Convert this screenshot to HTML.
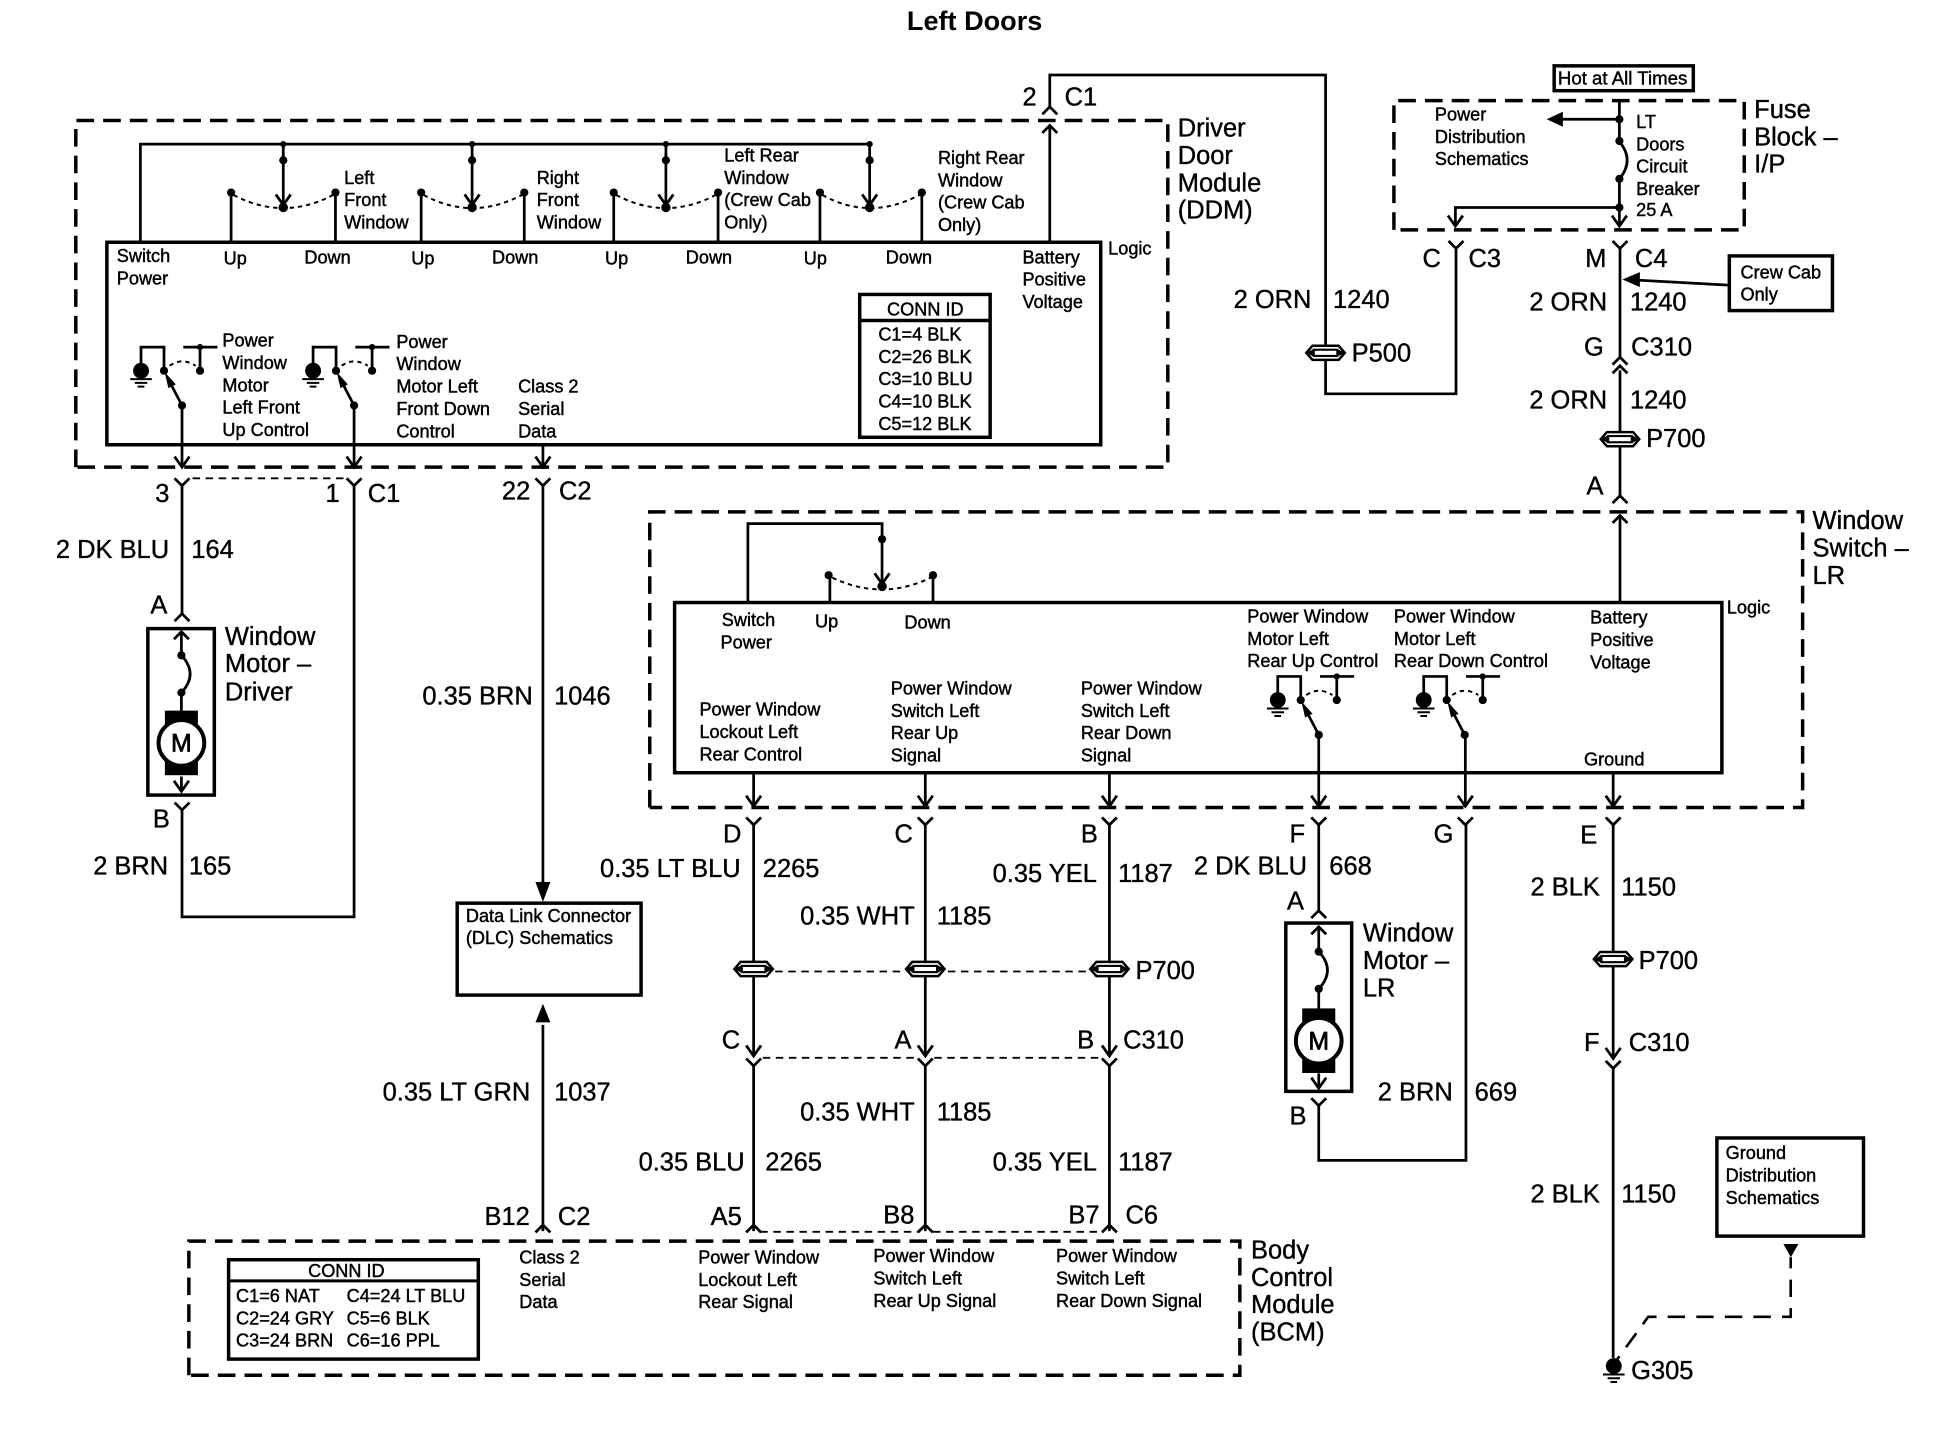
<!DOCTYPE html>
<html><head><meta charset="utf-8"><title>Left Doors</title>
<style>
html,body{margin:0;padding:0;background:#fff}
svg{display:block}
text{font-family:"Liberation Sans",sans-serif;fill:#000}
.s{font-size:14.6px;stroke:#000;stroke-width:.35}
.b{font-size:20.5px;stroke:#000;stroke-width:.3}
.w{fill:none;stroke:#000;stroke-width:2.2}
.box{fill:none;stroke:#000;stroke-width:2.8}
.d{fill:none;stroke:#000;stroke-width:2.8;stroke-dasharray:14.2 7.3}
.t{fill:none;stroke:#000;stroke-width:1.5;stroke-dasharray:6 4.5}
.o{fill:none;stroke:#000;stroke-width:1.6;stroke-dasharray:3.5 3.2}
</style></head><body>
<svg xmlns="http://www.w3.org/2000/svg" width="1948" height="1456" viewBox="0 0 1568 1172">
<defs>
<path id="ad" d="M-6,-8.500L0,0L6,-8.500" fill="none" stroke="#000" stroke-width="2.2"/>
<path id="yf" d="M-6,-6L0,0L6,-6" fill="none" stroke="#000" stroke-width="2.2"/>
<path id="up" d="M-6,6L0,0L6,6" fill="none" stroke="#000" stroke-width="2.2"/>
<circle id="dot" r="3.3" fill="#000"/>
<g id="pp"><path d="M-15.500,0L-10.500,-5.700H10.500L15.500,0L10.500,5.700H-10.500Z" fill="#fff" stroke="#000" stroke-width="2"/><rect x="-9.500" y="-2.500" width="19" height="5" fill="#fff" stroke="#000" stroke-width="1.700"/><path d="M-16,0L-9.500,-3V3ZM16,0L9.500,-3V3Z" fill="#000"/></g>
<g id="gnd"><circle cx="0" cy="0" r="6.4" fill="#000"/><path d="M-8.700,6.800H8.700M-5,9.800H5M-2.700,12.800H2.700" stroke="#000" stroke-width="1.600"/></g>
<g id="sw">
<path class="w" d="M0,-4V-18H18.500V1"/>
<path class="w" d="M34,-18H61.500M47.500,-18V1"/>
<circle cx="18.500" cy="1" r="3.300"/><circle cx="47.500" cy="1" r="3.300"/>
<path class="o" d="M23,-3Q33,-10 44,-3"/>
<path class="w" d="M33,29L21,6"/><path d="M19,2L28,12L22,15Z" fill="#000"/>
<circle cx="33" cy="29" r="3.300"/>
<circle cx="47.500" cy="-18" r="2.500"/>
</g>
<g id="mot">
<rect x="-13.300" y="-26" width="26.600" height="52" fill="#000"/>
<circle r="18.400" fill="#fff" stroke="#000" stroke-width="3.200"/>
<text x="0" y="7" text-anchor="middle" style="font-size:20px;stroke:#000;stroke-width:.6">M</text>
</g>
<g id="bulge"><path class="w" d="M0,0Q14,15 0,30"/><circle r="3.300"/><circle cy="30" r="3.300"/></g>
</defs>
<rect width="1568" height="1172" fill="#fff"/>

<text x="730" y="24" style="font-size:21.8px;font-weight:bold">Left Doors</text>

<!-- DDM -->
<path class="d" d="M61,376V97H940V376H61"/>
<rect class="box" x="86" y="195" width="800" height="163"/>
<path class="w" d="M113,195V116H700V167M228,116V167M380,116V167M536,116V167"/>
<path class="w" d="M186,195V156M270,195V156M339,195V156M422,195V156M494,195V156M578,195V156M660,195V156M742,195V156"/>
<g fill="#000">
<circle cx="228" cy="116" r="2.5"/><circle cx="380" cy="116" r="2.5"/><circle cx="536" cy="116" r="2.5"/><circle cx="700" cy="116" r="2.500"/>
<circle cx="228" cy="129" r="3.300"/><circle cx="380" cy="129" r="3.300"/><circle cx="536" cy="129" r="3.300"/><circle cx="700" cy="129" r="3.300"/>
<circle cx="228" cy="167" r="3.800"/><circle cx="380" cy="167" r="3.800"/><circle cx="536" cy="167" r="3.800"/><circle cx="700" cy="167" r="3.800"/>
<circle cx="186" cy="155" r="3.300"/><circle cx="270" cy="155" r="3.300"/><circle cx="339" cy="155" r="3.300"/><circle cx="422" cy="155" r="3.300"/><circle cx="494" cy="155" r="3.300"/><circle cx="578" cy="155" r="3.300"/><circle cx="660" cy="155" r="3.300"/><circle cx="742" cy="155" r="3.300"/>
</g>
<use href="#ad" x="228" y="165"/><use href="#ad" x="380" y="165"/><use href="#ad" x="536" y="165"/><use href="#ad" x="700" y="165"/>
<path class="o" d="M188,157Q228,178 268,157M341,157Q380,178 420,157M496,157Q536,178 576,157M662,157Q700,178 740,157"/>
<text class="s" x="94" y="211">Switch</text><text class="s" x="94" y="229">Power</text>
<text class="s" x="180" y="213">Up</text><text class="s" x="245" y="212">Down</text>
<text class="s" x="331" y="213">Up</text><text class="s" x="396" y="212">Down</text>
<text class="s" x="487" y="213">Up</text><text class="s" x="552" y="212">Down</text>
<text class="s" x="647" y="213">Up</text><text class="s" x="713" y="212">Down</text>
<text class="s" x="277" y="148">Left</text><text class="s" x="277" y="166">Front</text><text class="s" x="277" y="184">Window</text>
<text class="s" x="432" y="148">Right</text><text class="s" x="432" y="166">Front</text><text class="s" x="432" y="184">Window</text>
<text class="s" x="583" y="130">Left Rear</text><text class="s" x="583" y="148">Window</text><text class="s" x="583" y="166">(Crew Cab</text><text class="s" x="583" y="184">Only)</text>
<text class="s" x="755" y="132">Right Rear</text><text class="s" x="755" y="150">Window</text><text class="s" x="755" y="168">(Crew Cab</text><text class="s" x="755" y="186">Only)</text>
<text class="s" x="823" y="212">Battery</text><text class="s" x="823" y="230">Positive</text><text class="s" x="823" y="248">Voltage</text>
<text class="s" x="892" y="205">Logic</text>
<text class="s" x="179" y="279">Power</text><text class="s" x="179" y="297">Window</text><text class="s" x="179" y="315">Motor</text><text class="s" x="179" y="333">Left Front</text><text class="s" x="179" y="351">Up Control</text>
<text class="s" x="319" y="280">Power</text><text class="s" x="319" y="298">Window</text><text class="s" x="319" y="316">Motor Left</text><text class="s" x="319" y="334">Front Down</text><text class="s" x="319" y="352">Control</text>
<text class="s" x="417" y="316">Class 2</text><text class="s" x="417" y="334">Serial</text><text class="s" x="417" y="352">Data</text>
<rect class="box" x="692" y="237" width="105" height="115"/>
<path class="box" d="M692,258H797"/>
<text class="s" x="714" y="254">CONN ID</text>
<text class="s" x="707" y="274">C1=4 BLK</text><text class="s" x="707" y="292">C2=26 BLK</text><text class="s" x="707" y="310">C3=10 BLU</text><text class="s" x="707" y="328">C4=10 BLK</text><text class="s" x="707" y="346">C5=12 BLK</text>

<use href="#gnd" x="113.500" y="298.400"/><use href="#sw" x="113.500" y="297.400"/>
<use href="#gnd" x="252" y="298.400"/><use href="#sw" x="252" y="297.400"/>
<path class="w" d="M146.500,326V375M285,326V375M437,358V375M845,195V102"/>
<use href="#ad" x="146.500" y="376"/><use href="#ad" x="285" y="376"/><use href="#ad" x="437" y="376"/>
<use href="#up" x="845" y="101"/>
<use href="#up" x="845" y="86"/>
<path class="w" d="M845,86V60.400H1067V317H1172V200"/>
<text class="b" x="823" y="85">2</text><text class="b" x="857" y="85">C1</text>
<text class="b" x="948" y="110">Driver</text><text class="b" x="948" y="132">Door</text><text class="b" x="948" y="154">Module</text><text class="b" x="948" y="176">(DDM)</text>

<!-- below DDM -->
<path class="t" d="M155,385H277"/>
<path class="w" d="M146.500,391V494M285,391V738H146.500V652M437,391V712"/>
<use href="#yf" x="146.500" y="391"/><use href="#yf" x="285" y="391"/><use href="#yf" x="437" y="391"/>
<text class="b" x="125" y="404">3</text><text class="b" x="262" y="404">1</text><text class="b" x="296" y="404">C1</text>
<text class="b" x="404" y="402">22</text><text class="b" x="450" y="402">C2</text>
<text class="b" x="45" y="449">2 DK BLU</text><text class="b" x="154" y="449">164</text>
<text class="b" x="121" y="494">A</text>
<use href="#up" x="146.500" y="494"/>
<rect class="box" x="119" y="506" width="53.500" height="134"/>
<path class="w" d="M146,509V527M146,558V572M146,625V636"/>
<use href="#up" x="146" y="508.500"/>
<use href="#bulge" x="146" y="527.500"/>
<use href="#mot" x="146" y="598"/>
<use href="#ad" x="146" y="637"/>
<use href="#yf" x="146.500" y="652"/>
<text class="b" x="123" y="666">B</text>
<text class="b" x="75" y="704">2 BRN</text><text class="b" x="152" y="704">165</text>
<text class="b" x="181" y="519">Window</text><text class="b" x="181" y="541">Motor –</text><text class="b" x="181" y="564">Driver</text>

<text class="b" x="340" y="567">0.35 BRN</text><text class="b" x="446" y="567">1046</text>
<path d="M437,726L431,710H443Z" fill="#000"/>
<rect class="box" x="368" y="727" width="148" height="74"/>
<text class="s" x="375" y="742">Data Link Connector</text><text class="s" x="375" y="760">(DLC) Schematics</text>
<path class="w" d="M437,825V991"/>
<path d="M437,808L431,823H443Z" fill="#000"/>
<text class="b" x="308" y="886">0.35 LT GRN</text><text class="b" x="446" y="886">1037</text>
<use href="#up" x="437" y="986"/>
<text class="b" x="390" y="986">B12</text><text class="b" x="449" y="986">C2</text>

<!-- Fuse block -->
<rect class="box" x="1251" y="53" width="112" height="20"/>
<text class="s" x="1254" y="68" style="font-size:15px">Hot at All Times</text>
<path class="d" d="M1122,185V81H1404V185H1122"/>
<path class="w" d="M1303.500,81V113M1303.500,144V180M1257,96H1303M1303,167H1171.500V180"/>
<path class="w" d="M1303.500,114Q1316,129 1303.500,144"/>
<g fill="#000"><circle cx="1303.500" cy="96" r="3.300"/><circle cx="1303.500" cy="113.500" r="3.300"/><circle cx="1303.500" cy="144" r="3.300"/><circle cx="1303.500" cy="167" r="3.300"/>
<path d="M1245,96L1258,90V102Z"/></g>
<use href="#ad" x="1303.500" y="182"/><use href="#ad" x="1171.500" y="182"/>
<text class="s" x="1155" y="97">Power</text><text class="s" x="1155" y="115">Distribution</text><text class="s" x="1155" y="133">Schematics</text>
<text class="s" x="1317" y="103">LT</text><text class="s" x="1317" y="121">Doors</text><text class="s" x="1317" y="139">Circuit</text><text class="s" x="1317" y="157">Breaker</text><text class="s" x="1317" y="174">25 A</text>
<text class="b" x="1412" y="95">Fuse</text><text class="b" x="1412" y="117">Block –</text><text class="b" x="1412" y="139">I/P</text>

<use href="#yf" x="1172" y="200"/><use href="#yf" x="1304" y="200"/>
<path class="w" d="M1304,200V288M1304,298V399M1304,416V485"/>
<use href="#up" x="1304" y="287.500"/><use href="#up" x="1304" y="294.500"/>
<use href="#up" x="1304" y="399"/>
<use href="#up" x="1304" y="415"/>
<text class="b" x="1145" y="215">C</text><text class="b" x="1182" y="215">C3</text>
<text class="b" x="1276" y="215">M</text><text class="b" x="1316" y="215">C4</text>
<rect class="box" x="1392" y="206" width="83" height="44"/>
<text class="s" x="1401" y="224">Crew Cab</text><text class="s" x="1401" y="242">Only</text>
<path class="w" d="M1391,229.500L1318,225.500"/><path d="M1306,225L1320,219V231Z" fill="#000"/>
<text class="b" x="1231" y="250">2 ORN</text><text class="b" x="1312" y="250">1240</text>
<text class="b" x="1275" y="286">G</text><text class="b" x="1313" y="286">C310</text>
<text class="b" x="1231" y="329">2 ORN</text><text class="b" x="1312" y="329">1240</text>
<use href="#pp" x="1304" y="353.500"/>
<text class="b" x="1325" y="360">P700</text>
<text class="b" x="1277" y="398">A</text>
<text class="b" x="993" y="248">2 ORN</text><text class="b" x="1073" y="248">1240</text>
<use href="#pp" x="1067" y="284"/>
<text class="b" x="1088" y="291">P500</text>

<!-- Window Switch LR -->
<path class="d" d="M523,650V412H1451V650H523"/>
<rect class="box" x="543" y="485" width="843" height="137"/>
<path class="w" d="M602,485V421.500H710V474M668,485V463M751,485V463"/>
<g fill="#000"><circle cx="710" cy="434" r="3.300"/><circle cx="710" cy="472" r="3.800"/><circle cx="667" cy="463" r="3.300"/><circle cx="751" cy="463" r="3.300"/></g>
<use href="#ad" x="710" y="470"/>
<path class="o" d="M670,465Q710,484 749,465"/>
<text class="s" x="581" y="504">Switch</text><text class="s" x="580" y="522">Power</text>
<text class="s" x="656" y="505">Up</text><text class="s" x="728" y="506">Down</text>
<text class="s" x="563" y="576">Power Window</text><text class="s" x="563" y="594">Lockout Left</text><text class="s" x="563" y="612">Rear Control</text>
<text class="s" x="717" y="559">Power Window</text><text class="s" x="717" y="577">Switch Left</text><text class="s" x="717" y="595">Rear Up</text><text class="s" x="717" y="613">Signal</text>
<text class="s" x="870" y="559">Power Window</text><text class="s" x="870" y="577">Switch Left</text><text class="s" x="870" y="595">Rear Down</text><text class="s" x="870" y="613">Signal</text>
<text class="s" x="1004" y="501">Power Window</text><text class="s" x="1004" y="519">Motor Left</text><text class="s" x="1004" y="537">Rear Up Control</text>
<text class="s" x="1122" y="501">Power Window</text><text class="s" x="1122" y="519">Motor Left</text><text class="s" x="1122" y="537">Rear Down Control</text>
<text class="s" x="1280" y="502">Battery</text><text class="s" x="1280" y="520">Positive</text><text class="s" x="1280" y="538">Voltage</text>
<text class="s" x="1275" y="616">Ground</text><text class="s" x="1390" y="494">Logic</text>
<text class="b" x="1459" y="426">Window</text><text class="b" x="1459" y="448">Switch –</text><text class="b" x="1459" y="470">LR</text>
<use href="#gnd" x="1028.500" y="563.500"/><use href="#sw" x="1028.500" y="562.500"/>
<use href="#gnd" x="1146" y="563.500"/><use href="#sw" x="1146" y="562.500"/>
<path class="w" d="M1061.500,591V648M1179.500,591V648M606.600,622V648M744.800,622V648M893,622V648M1298.500,622V648"/>
<use href="#ad" x="606.600" y="649"/><use href="#ad" x="744.800" y="649"/><use href="#ad" x="893" y="649"/><use href="#ad" x="1061.500" y="649"/><use href="#ad" x="1179.500" y="649"/><use href="#ad" x="1298.500" y="649"/>
<use href="#yf" x="606.600" y="664"/><use href="#yf" x="744.800" y="664"/><use href="#yf" x="893" y="664"/><use href="#yf" x="1061.500" y="664"/><use href="#yf" x="1179.500" y="664"/><use href="#yf" x="1298.500" y="664"/>
<text class="b" x="582" y="678">D</text><text class="b" x="720" y="678">C</text><text class="b" x="870" y="678">B</text><text class="b" x="1038" y="678">F</text><text class="b" x="1154" y="678">G</text><text class="b" x="1272" y="679">E</text>

<!-- Three signal wires -->
<path class="w" d="M606.600,664V849M744.800,664V849M893,664V849M606.600,857V991M744.800,857V991M893,857V991"/>
<use href="#pp" x="606.600" y="780"/><use href="#pp" x="744.800" y="780"/><use href="#pp" x="893" y="780"/>
<path class="t" d="M624,782H727M763,782H875"/>
<text class="b" x="914" y="788">P700</text>
<use href="#ad" x="606.600" y="850"/><use href="#ad" x="744.800" y="850"/><use href="#ad" x="893" y="850"/>
<use href="#yf" x="606.600" y="858"/><use href="#yf" x="744.800" y="858"/><use href="#yf" x="893" y="858"/>
<path class="t" d="M614,851.500H738M752,851.500H886"/>
<text class="b" x="581" y="844">C</text><text class="b" x="720" y="844">A</text><text class="b" x="867" y="844">B</text><text class="b" x="904" y="844">C310</text>
<text class="b" x="483" y="706">0.35 LT BLU</text><text class="b" x="614" y="706">2265</text>
<text class="b" x="644" y="744">0.35 WHT</text><text class="b" x="754" y="744">1185</text>
<text class="b" x="799" y="710">0.35 YEL</text><text class="b" x="900" y="710">1187</text>
<text class="b" x="644" y="902">0.35 WHT</text><text class="b" x="754" y="902">1185</text>
<text class="b" x="514" y="942">0.35 BLU</text><text class="b" x="616" y="942">2265</text>
<text class="b" x="799" y="942">0.35 YEL</text><text class="b" x="900" y="942">1187</text>
<use href="#up" x="606.600" y="986"/><use href="#up" x="744.800" y="986"/><use href="#up" x="893" y="986"/>
<path class="t" d="M612,991.500H739M751,991.500H887"/>
<text class="b" x="572" y="986">A5</text><text class="b" x="711" y="985">B8</text><text class="b" x="860" y="985">B7</text><text class="b" x="906" y="985">C6</text>

<!-- Motor LR -->
<text class="b" x="961" y="704">2 DK BLU</text><text class="b" x="1070" y="704">668</text>
<path class="w" d="M1061.500,664V733M1061.500,890V934H1180V664"/>
<text class="b" x="1036" y="732">A</text>
<use href="#up" x="1061.500" y="733"/>
<rect class="box" x="1035" y="743" width="53" height="135.500"/>
<path class="w" d="M1061.500,747V766M1061.500,796V812M1061.500,864V875"/>
<use href="#up" x="1061.500" y="746"/>
<use href="#bulge" x="1061.500" y="766"/>
<use href="#mot" x="1061.500" y="837.700"/>
<use href="#ad" x="1061.500" y="876"/>
<use href="#yf" x="1061.500" y="890"/>
<text class="b" x="1038" y="905">B</text>
<text class="b" x="1097" y="758">Window</text><text class="b" x="1097" y="780">Motor –</text><text class="b" x="1097" y="802">LR</text>
<text class="b" x="1109" y="886">2 BRN</text><text class="b" x="1187" y="886">669</text>

<!-- Ground wire -->
<path class="w" d="M1298.500,664V850M1298.500,860V1093"/>
<use href="#pp" x="1298.500" y="772"/>
<text class="b" x="1319" y="780">P700</text>
<text class="b" x="1232" y="721">2 BLK</text><text class="b" x="1305" y="721">1150</text>
<use href="#ad" x="1298.500" y="852"/><use href="#yf" x="1298.500" y="860"/>
<text class="b" x="1275" y="846">F</text><text class="b" x="1311" y="846">C310</text>
<text class="b" x="1232" y="968">2 BLK</text><text class="b" x="1305" y="968">1150</text>
<use href="#gnd" x="1299" y="1099.600"/>
<text class="b" x="1313" y="1110">G305</text>
<rect class="box" x="1382" y="916" width="118" height="79"/>
<text class="s" x="1389" y="933">Ground</text><text class="s" x="1389" y="951">Distribution</text><text class="s" x="1389" y="969">Schematics</text>
<path d="M1435.500,1001.400H1447.600L1441.500,1012Z" fill="#000"/>
<path d="M1441.400,1012V1060H1326.700L1299,1098" fill="none" stroke="#000" stroke-width="2.100" stroke-dasharray="14 9" stroke-dashoffset="5"/>

<!-- BCM -->
<path class="d" d="M152,1107V999H998V1107H152"/>
<rect class="box" x="184" y="1014" width="201" height="80"/>
<path class="box" d="M184,1031H385" style="stroke-width:2.4"/>
<text class="s" x="248" y="1028">CONN ID</text>
<text class="s" x="190" y="1048">C1=6 NAT</text><text class="s" x="279" y="1048">C4=24 LT BLU</text>
<text class="s" x="190" y="1066">C2=24 GRY</text><text class="s" x="279" y="1066">C5=6 BLK</text>
<text class="s" x="190" y="1084">C3=24 BRN</text><text class="s" x="279" y="1084">C6=16 PPL</text>
<text class="s" x="418" y="1017">Class 2</text><text class="s" x="418" y="1035">Serial</text><text class="s" x="418" y="1053">Data</text>
<text class="s" x="562" y="1017">Power Window</text><text class="s" x="562" y="1035">Lockout Left</text><text class="s" x="562" y="1053">Rear Signal</text>
<text class="s" x="703" y="1016">Power Window</text><text class="s" x="703" y="1034">Switch Left</text><text class="s" x="703" y="1052">Rear Up Signal</text>
<text class="s" x="850" y="1016">Power Window</text><text class="s" x="850" y="1034">Switch Left</text><text class="s" x="850" y="1052">Rear Down Signal</text>
<text class="b" x="1007" y="1013">Body</text><text class="b" x="1007" y="1035">Control</text><text class="b" x="1007" y="1057">Module</text><text class="b" x="1007" y="1079">(BCM)</text>
</svg>
</body></html>
